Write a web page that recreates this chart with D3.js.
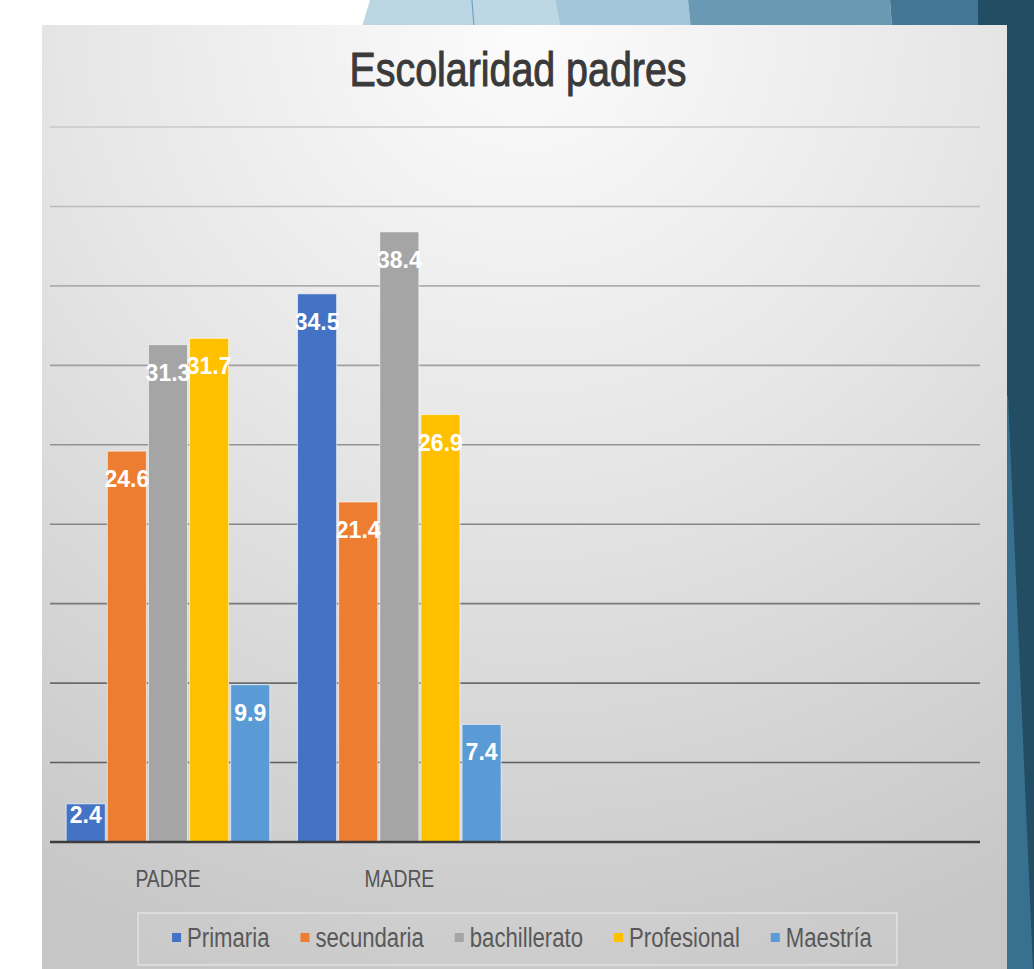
<!DOCTYPE html>
<html>
<head>
<meta charset="utf-8">
<script src="https://cdnjs.cloudflare.com/ajax/libs/d3/7.8.5/d3.min.js"></script>
<style>
  body { margin: 0; background: #ffffff; }
  svg { display: block; }
</style>
</head>
<body>
<div id="chart"></div>
<script>

// chart data
var categories = ["PADRE", "MADRE", "", ""];
var series = ["Primaria", "secundaria", "bachillerato", "Profesional", "Maestría"];
var padreValues = [2.4, 24.6, 31.3, 31.7, 9.9];
var madreValues = [34.5, 21.4, 38.4, 26.9, 7.4];
var yTicks = [5, 10, 15, 20, 25, 30, 35, 40, 45];
var seriesColors = ["#4472C4", "#ED7D31", "#A5A5A5", "#FFC000", "#5B9BD5"];

var width = 1034, height = 969;
var font = "'Liberation Sans', Arial, sans-serif";

var rows = [
	{ cat: 0, values: padreValues },
	{ cat: 1, values: madreValues }
];

// squeeze text horizontally (no narrow font installed)
function condense(sel, k) {
	sel.each(function() {
		var len = this.getComputedTextLength();
		if (len > 0) {
			d3.select(this)
				.attr("textLength", len * k)
				.attr("lengthAdjust", "spacingAndGlyphs");
		}
	});
}

var svg = d3.select("#chart").append("svg")
	.attr("width", width)
	.attr("height", height);

var defs = svg.append("defs");

var grad = defs.append("radialGradient")
	.attr("id", "panelGrad")
	.attr("cx", "50%").attr("cy", "0%")
	.attr("fx", "50%").attr("fy", "0%")
	.attr("r", "105%");
grad.append("stop").attr("offset", "0%").attr("stop-color", "#fcfcfc");
grad.append("stop").attr("offset", "45%").attr("stop-color", "#e6e6e6");
grad.append("stop").attr("offset", "100%").attr("stop-color", "#c6c6c6");

// slide decoration behind the chart
var deco = [
	{ c: "#bcd5e3", p: [[370, 0], [472, 0], [475, 40], [358, 40]] },
	{ c: "#bed7e4", p: [[472, 0], [555, 0], [563, 40], [475, 40]] },
	{ c: "#a3c6da", p: [[555, 0], [688, 0], [692, 40], [563, 40]] },
	{ c: "#6a9ab3", p: [[688, 0], [890, 0], [893, 40], [692, 40]] },
	{ c: "#447696", p: [[890, 0], [978, 0], [980, 40], [893, 40]] },
	{ c: "#234d63", p: [[978, 0], [1034, 0], [1034, 969], [980, 969]] },
	{ c: "#38718f", p: [[995, 396], [1008, 396], [1033, 969], [995, 969]] }
];

svg.selectAll("polygon.deco")
	.data(deco)
	.enter()
	.append("polygon")
	.attr("class", "deco")
	.attr("points", function(d) { return d.p.join(" "); })
	.attr("fill", function(d) { return d.c; });

svg.append("line")
	.attr("x1", 472).attr("y1", 0).attr("x2", 474).attr("y2", 26)
	.attr("stroke", "#6fa3c3").attr("stroke-width", 1.2);

// chart panel
svg.append("rect")
	.attr("x", 42).attr("y", 25)
	.attr("width", 965).attr("height", height - 25)
	.attr("fill", "url(#panelGrad)");

svg.append("text")
	.attr("x", 518).attr("y", 86)
	.attr("text-anchor", "middle")
	.attr("font-family", font)
	.attr("font-size", 48)
	.attr("fill", "#3a3a3a")
	.attr("stroke", "#3a3a3a")
	.attr("stroke-width", 1)
	.text("Escolaridad padres")
	.call(condense, 0.82);

var x0 = d3.scaleBand()
	.domain(d3.range(categories.length))
	.range([50, 980])
	.paddingInner(0.12)
	.paddingOuter(0.07);

var x1 = d3.scaleBand()
	.domain(d3.range(series.length))
	.range([0, x0.bandwidth()])
	.paddingInner(0.05);

var y = d3.scaleLinear()
	.domain([0, 45])
	.range([842, 127]);

var gridColor = d3.scaleLinear()
	.domain([5, 45])
	.range(["#5e5e5e", "#c8c8c8"]);

// gridlines
svg.append("g")
	.selectAll("line")
	.data(yTicks)
	.enter()
	.append("line")
	.attr("x1", 50).attr("x2", 980)
	.attr("y1", function(d) { return y(d); })
	.attr("y2", function(d) { return y(d); })
	.attr("stroke", function(d) { return gridColor(d); })
	.attr("stroke-width", 1.6);

// bars
var groups = svg.append("g")
	.selectAll("g")
	.data(rows)
	.enter()
	.append("g")
	.attr("transform", function(d) { return "translate(" + x0(d.cat) + ",0)"; });

groups.selectAll("rect")
	.data(function(d) { return d.values; })
	.enter()
	.append("rect")
	.attr("x", function(d, i) { return x1(i); })
	.attr("y", function(d) { return y(d); })
	.attr("width", x1.bandwidth())
	.attr("height", function(d) { return y(0) - y(d); })
	.attr("fill", function(d, i) { return seriesColors[i]; })
	.attr("stroke", "rgba(255,255,255,0.6)")
	.attr("stroke-width", 1);

groups.selectAll("text")
	.data(function(d) { return d.values; })
	.enter()
	.append("text")
	.attr("x", function(d, i) { return x1(i) + x1.bandwidth() / 2; })
	.attr("y", function(d) {
		var h = y(0) - y(d);
		return y(d) + Math.min(36, h / 2);
	})
	.attr("text-anchor", "middle")
	.attr("font-family", font)
	.attr("font-weight", "bold")
	.attr("font-size", 23)
	.attr("fill", "#ffffff")
	.text(function(d) { return d; });

// baseline
svg.append("line")
	.attr("x1", 50).attr("x2", 980)
	.attr("y1", y(0)).attr("y2", y(0))
	.attr("stroke", "#3c3c3c")
	.attr("stroke-width", 2.6);

// category labels
var xAxis = d3.axisBottom(x0)
	.tickSize(0)
	.tickFormat(function(i) { return categories[i]; });

var axisG = svg.append("g")
	.attr("transform", "translate(0," + y(0) + ")")
	.call(xAxis);
axisG.select(".domain").remove();
axisG.selectAll("text")
	.attr("dy", 0)
	.attr("y", 45)
	.attr("font-family", font)
	.attr("font-size", 23)
	.attr("fill", "#555555")
	.call(condense, 0.84);

// legend
svg.append("rect")
	.attr("x", 138).attr("y", 913)
	.attr("width", 759).attr("height", 52)
	.attr("fill", "rgba(255,255,255,0.07)")
	.attr("stroke", "rgba(255,255,255,0.45)")
	.attr("stroke-width", 1.5);

var legend = svg.append("g");
var items = legend.selectAll("g")
	.data(series)
	.enter()
	.append("g");

items.append("rect")
	.attr("x", 0).attr("y", -5)
	.attr("width", 9).attr("height", 9)
	.attr("fill", function(d, i) { return seriesColors[i]; });

items.append("text")
	.attr("x", 15).attr("y", 9)
	.attr("font-family", font)
	.attr("font-size", 27)
	.attr("fill", "#595959")
	.text(function(d) { return d; })
	.call(condense, 0.82);

var pos = 0, offsets = [];
items.each(function(d, i) {
	offsets.push(pos);
	pos += 15 + (+d3.select(this).select("text").attr("textLength")) + 31;
});
var total = pos - 31;
var startX = 522 - total / 2;
items.attr("transform", function(d, i) { return "translate(" + (startX + offsets[i]) + ",938)"; });

</script>
</body>
</html>
